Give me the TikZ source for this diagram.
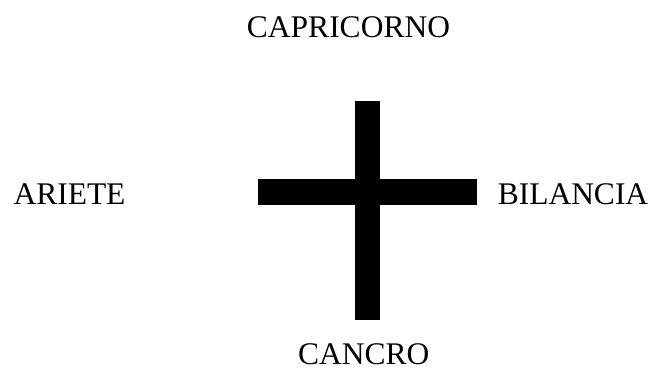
\documentclass[tikz,border=0pt]{standalone}
\usepackage{fontspec}
\setmainfont{Liberation Serif}

\tikzset{
    segno/.style={font=\fontsize{31.5}{36}\selectfont, anchor=base, inner sep=0pt},
    braccio/.style={fill=black, draw=none}
}

\begin{document}
\begin{tikzpicture}[x=1pt, y=-1pt]
    % cornice
    \useasboundingbox (0,0) rectangle (654,370);

    %—————— croce ——————
    % asse verticale
    \fill[braccio] (354.5,101) rectangle (380,319.5);
    % asse orizzontale
    \fill[braccio] (258,179) rectangle (476.5,205);

    %—————— segni ——————
    \node[segno] (capricorno) at (348.5,37.3) {CAPRICORNO};
    \node[segno] (ariete)     at (69.5,204)   {ARIETE};
    \node[segno] (bilancia)   at (573,204)    {BILANCIA};
    \node[segno] (cancro)     at (363.7,364)  {CANCRO};
\end{tikzpicture}
\end{document}
